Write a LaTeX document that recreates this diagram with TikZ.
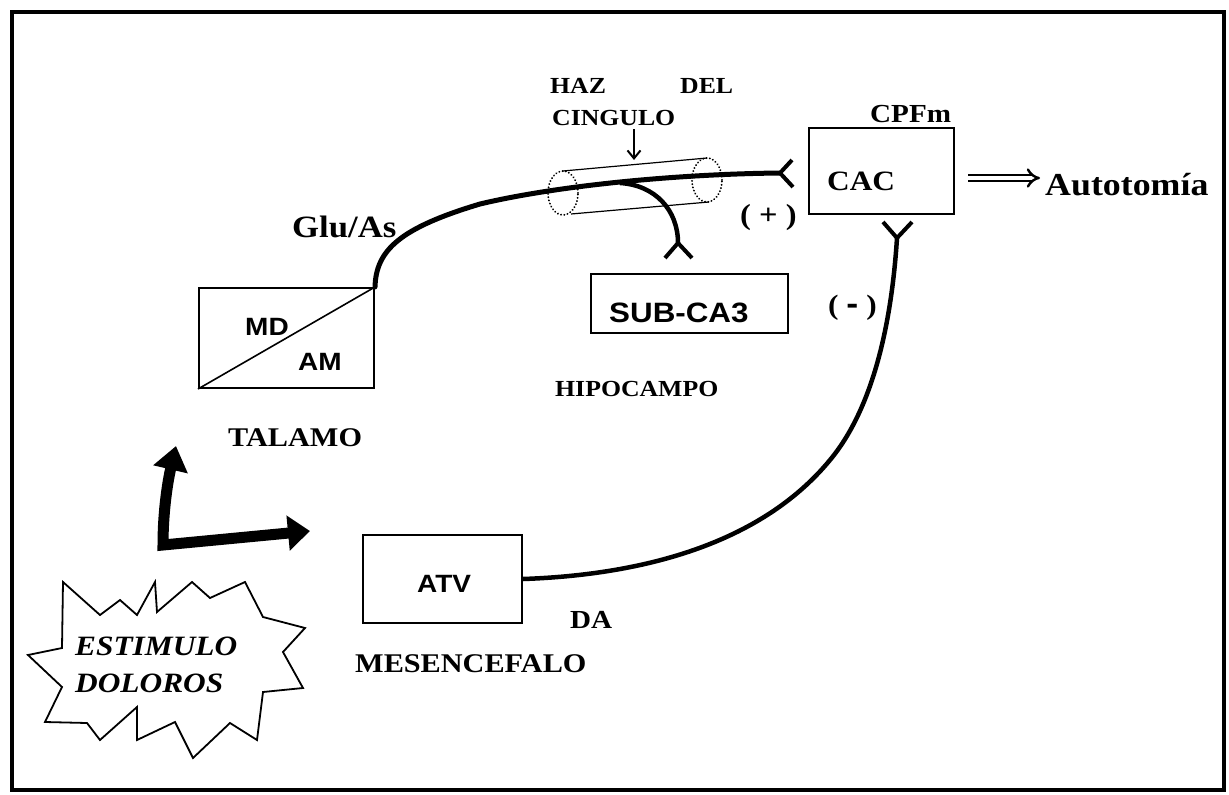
\documentclass[tikz,border=0pt]{standalone}
\usepackage{fontspec}
\setmainfont{Liberation Serif}[FakeStretch=1.12]
\setsansfont{Liberation Sans}[FakeStretch=1.12]
\usetikzlibrary{arrows.meta}
\newcommand{\fsz}[1]{\fontsize{#1}{#1}\selectfont}
\begin{document}
\begin{tikzpicture}[x=1pt,y=-1pt,
  boxnode/.style={draw, line width=2pt, inner sep=0pt},
  lbl/.style={inner sep=0pt, anchor=base west, font=\bfseries},
  slbl/.style={inner sep=0pt, anchor=base west, font=\sffamily\bfseries},
  nerve/.style={line width=5pt, line cap=round},
  synarm/.style={line width=4pt, line cap=butt},
  fat/.style={line width=11pt, line join=miter,
     {Triangle[length=24pt,width=34pt]}-{Triangle[length=22pt,width=34pt]}},
  cyl/.style={line width=1.2pt},
  dots/.style={line width=2pt, dash pattern=on 0.1pt off 3.2pt, line cap=round}]
\useasboundingbox (0,0) rectangle (1229,795);

% frame
\node[draw, line width=3.5pt, inner sep=0pt, minimum width=1212pt, minimum height=778pt] (frame) at (618,401) {};

% boxes
\node[boxnode, minimum width=175pt, minimum height=100pt] (tal) at (286.5,338) {};
\node[boxnode, minimum width=197pt, minimum height=59pt] (sub) at (689.5,303.5) {};
\node[boxnode, minimum width=145pt, minimum height=86pt] (cac) at (881.5,171) {};
\node[boxnode, minimum width=159pt, minimum height=88pt] (atv) at (442.5,579) {};
\draw[line width=1.6pt] (tal.south west) -- (tal.north east);

% texts
\node[slbl, font=\sffamily\bfseries\fsz{25}] (md) at (245,335) {MD};
\node[slbl, font=\sffamily\bfseries\fsz{25}] (am) at (298,370) {AM};
\node[lbl, font=\bfseries\fsz{27}] (talamo) at (228,446) {TALAMO};
\node[lbl, font=\bfseries\fsz{31}] (glu) at (292,237) {Glu/As};
\node[lbl, font=\bfseries\fsz{23}] (haz) at (550,93) {HAZ};
\node[lbl, font=\bfseries\fsz{23}] (del) at (680,93) {DEL};
\node[lbl, font=\bfseries\fsz{23}] (cing) at (552,125) {CINGULO};
\node[lbl, font=\bfseries\fsz{26}] (cpfm) at (870,122) {CPFm};
\node[lbl, font=\bfseries\fsz{28}] (cactxt) at (827,190) {CAC};
\node[lbl, font=\bfseries\fsz{32}] (auto) at (1045,195) {Autotomía};
\node[slbl, font=\sffamily\bfseries\fsz{28}] (subtxt) at (609,322) {SUB-CA3};
\node[lbl, font=\bfseries\fsz{23}] (hipo) at (555,396) {HIPOCAMPO};
\node[lbl, font=\bfseries\fsz{29}] (plus) at (740,224) {( + )};
\node[lbl, font=\bfseries\fsz{28}] (minus) at (828,314) {( {\sffamily\fsz{32}-} )};
\node[slbl, font=\sffamily\bfseries\fsz{25}] (atvtxt) at (417,592) {ATV};
\node[lbl, font=\bfseries\fsz{26}] (da) at (570,628) {DA};
\node[lbl, font=\bfseries\fsz{27}] (mes) at (355,672) {MESENCEFALO};
\node[lbl, font=\bfseries\itshape\fsz{28}] (est1) at (75,655) {ESTIMULO};
\node[lbl, font=\bfseries\itshape\fsz{28}] (est2) at (75,692) {DOLOROS};

% cylinder (haz del cingulo)
\draw[dots] (563,193) ellipse [x radius=15pt, y radius=22pt];
\draw[dots] (707,180) ellipse [x radius=15pt, y radius=22pt];
\coordinate (ctl) at (563,171);
\coordinate (ctr) at (707,158);
\coordinate (cbl) at (571,214);
\coordinate (cbr) at (709,202);
\draw[cyl] (ctl) -- (ctr);
\draw[cyl] (cbl) -- (cbr);
\coordinate (cingtip) at (634,160);
\draw[line width=2pt, -{Straight Barb[length=8pt,width=13pt]}] (634,129) -- (cingtip);

% synapse end points
\coordinate (f1) at (780,173);
\coordinate (f2) at (678,243);
\coordinate (f3) at (897,238);
\coordinate (br) at (620,183);

% talamo -> CAC
\draw[nerve] (tal.north east) .. controls (376,250) and (400,228) .. (480,204)
   .. controls (560,185) and (680,174) .. (f1);
\draw[synarm] (f1) -- ++(12,-13) (f1) -- ++(13,14);
% branch -> SUB-CA3
\draw[line width=4.5pt] (br) .. controls (655,185) and (678,210) .. (f2);
\draw[synarm] (f2) -- ++(-13,15) (f2) -- ++(14,15);
% ATV -> CAC
\draw[line width=4.5pt] (atv.east) .. controls (640,575) and (760,545) .. (830,460)
   .. controls (880,400) and (893,300) .. (f3);
\draw[synarm] (f3) -- ++(-14,-16) (f3) -- ++(15,-16);

% CAC => Autotomia
\coordinate (da1) at (968,178);
\coordinate (da2) at (1040,178);
\draw[double, double distance=4pt, line width=2.4pt, -{Implies[length=9pt]}] (da1) -- (da2);

% thick arrows from stimulus
\coordinate (upend) at (176,446);
\coordinate (corner) at (163,545);
\coordinate (rightend) at (310,531);
\draw[fat] (upend) .. controls (168,480) and (163,510) .. (corner) -- (rightend);

% starburst
\draw[line width=1.8pt, line join=miter] (63,582) -- (100,615) -- (120,600) -- (137,615) -- (155,582)
  -- (157,612) -- (192,582) -- (210,598) -- (245,582) -- (263,617) -- (305,628)
  -- (283,652) -- (303,688) -- (263,692) -- (257,740) -- (230,723) -- (193,758)
  -- (175,722) -- (137,740) -- (137,707) -- (100,740) -- (87,723) -- (45,722)
  -- (62,687) -- (28,655) -- (62,648) -- cycle;
\end{tikzpicture}
\end{document}
